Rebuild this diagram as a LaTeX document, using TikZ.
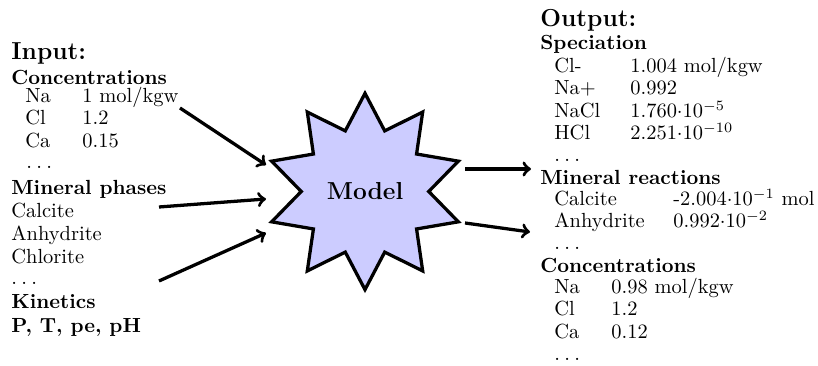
\documentclass[tikz,border=0pt]{standalone}
\usetikzlibrary{shapes.geometric}
\definecolor{modelfill}{RGB}{204,204,255}
\newcommand{\spdots}{.\kern2.1pt.\kern2.1pt.}
\begin{document}
\begin{tikzpicture}[x=0.489pt,y=-0.489pt,
  txt/.style={anchor=base west, inner sep=0pt},
  hd/.style={txt, font=\bfseries},
  ttl/.style={txt, font=\large\bfseries},
  arr/.style={->, line width=1.6pt},
  modelstar/.style={star, star points=10, star point ratio=1.54,
    minimum size=96pt, inner sep=0pt, draw, line width=1.6pt,
    fill=modelfill, font=\large\bfseries}]
\useasboundingbox (0,0) rectangle (818,366);

% ---- input column
\node[ttl] (in) at (11,60) {Input:};
\node[hd] (inconc) at (11,84.3) {Concentrations};
\node[txt] (inNa) at (25,102.7) {Na};
\node[txt] (inNav) at (82,102.7) {1 mol/kgw};
\node[txt] (inCl) at (25,125) {Cl};
\node[txt] (inClv) at (82,125) {1.2};
\node[txt] (inCa) at (25,147.3) {Ca};
\node[txt] (inCav) at (82,147.3) {0.15};
\node[txt] (indotsa) at (26,169) {\spdots};
\node[hd] (inmin) at (11,194.3) {Mineral phases};
\node[txt] (incal) at (11,217.3) {Calcite};
\node[txt] (inanh) at (11,241) {Anhydrite};
\node[txt] (inchl) at (11,264) {Chlorite};
\node[txt] (indotsb) at (11,285) {\spdots};
\node[hd] (inkin) at (11,308.3) {Kinetics};
\node[hd] (inptpe) at (11,332.7) {P, T, pe, pH};

% ---- model
\node[modelstar] (model) at (365,191.5) {Model};

% ---- output column
\node[ttl] (out) at (540,26.7) {Output:};
\node[hd] (spec) at (540,49.3) {Speciation};
\node[txt] (sCl) at (554,72.5) {Cl-};
\node[txt] (sClv) at (630,72.5) {1.004 mol/kgw};
\node[txt] (sNa) at (554,94.5) {Na+};
\node[txt] (sNav) at (630,94.5) {0.992};
\node[txt] (sNaCl) at (554,117.5) {NaCl};
\node[txt] (sNaClv) at (630,117.5) {1.760$\cdot$10$^{-5}$};
\node[txt] (sHCl) at (554,140) {HCl};
\node[txt] (sHClv) at (630,140) {2.251$\cdot$10$^{-10}$};
\node[txt] (sdots) at (554,162) {\spdots};
\node[hd] (minr) at (540,185) {Mineral reactions};
\node[txt] (mCal) at (554,205.5) {Calcite};
\node[txt] (mCalv) at (673,205.5) {-2.004$\cdot$10$^{-1}$ mol};
\node[txt] (mAnh) at (554,228) {Anhydrite};
\node[txt] (mAnhv) at (673,228) {0.992$\cdot$10$^{-2}$};
\node[txt] (mdots) at (554,250) {\spdots};
\node[hd] (outconc) at (540,272.5) {Concentrations};
\node[txt] (oNa) at (554,293.3) {Na};
\node[txt] (oNav) at (611,293.3) {0.98 mol/kgw};
\node[txt] (oCl) at (554,315.7) {Cl};
\node[txt] (oClv) at (611,315.7) {1.2};
\node[txt] (oCa) at (554,338.3) {Ca};
\node[txt] (oCav) at (611,338.3) {0.12};
\node[txt] (odots) at (554,360.5) {\spdots};

% ---- connectors
\coordinate (a1s) at (180,108);
\coordinate (a1e) at (266,165);
\coordinate (a2s) at (159,207);
\coordinate (a2e) at (266,199);
\coordinate (a3s) at (159,281);
\coordinate (a3e) at (266,233);
\coordinate (a4s) at (465,169);
\coordinate (a4e) at (531,169);
\coordinate (a5s) at (465,223);
\coordinate (a5e) at (530,232);
\draw[arr] (a1s) -- (a1e);
\draw[arr] (a2s) -- (a2e);
\draw[arr] (a3s) -- (a3e);
\draw[arr] (a4s) -- (a4e);
\draw[arr] (a5s) -- (a5e);
\end{tikzpicture}
\end{document}
